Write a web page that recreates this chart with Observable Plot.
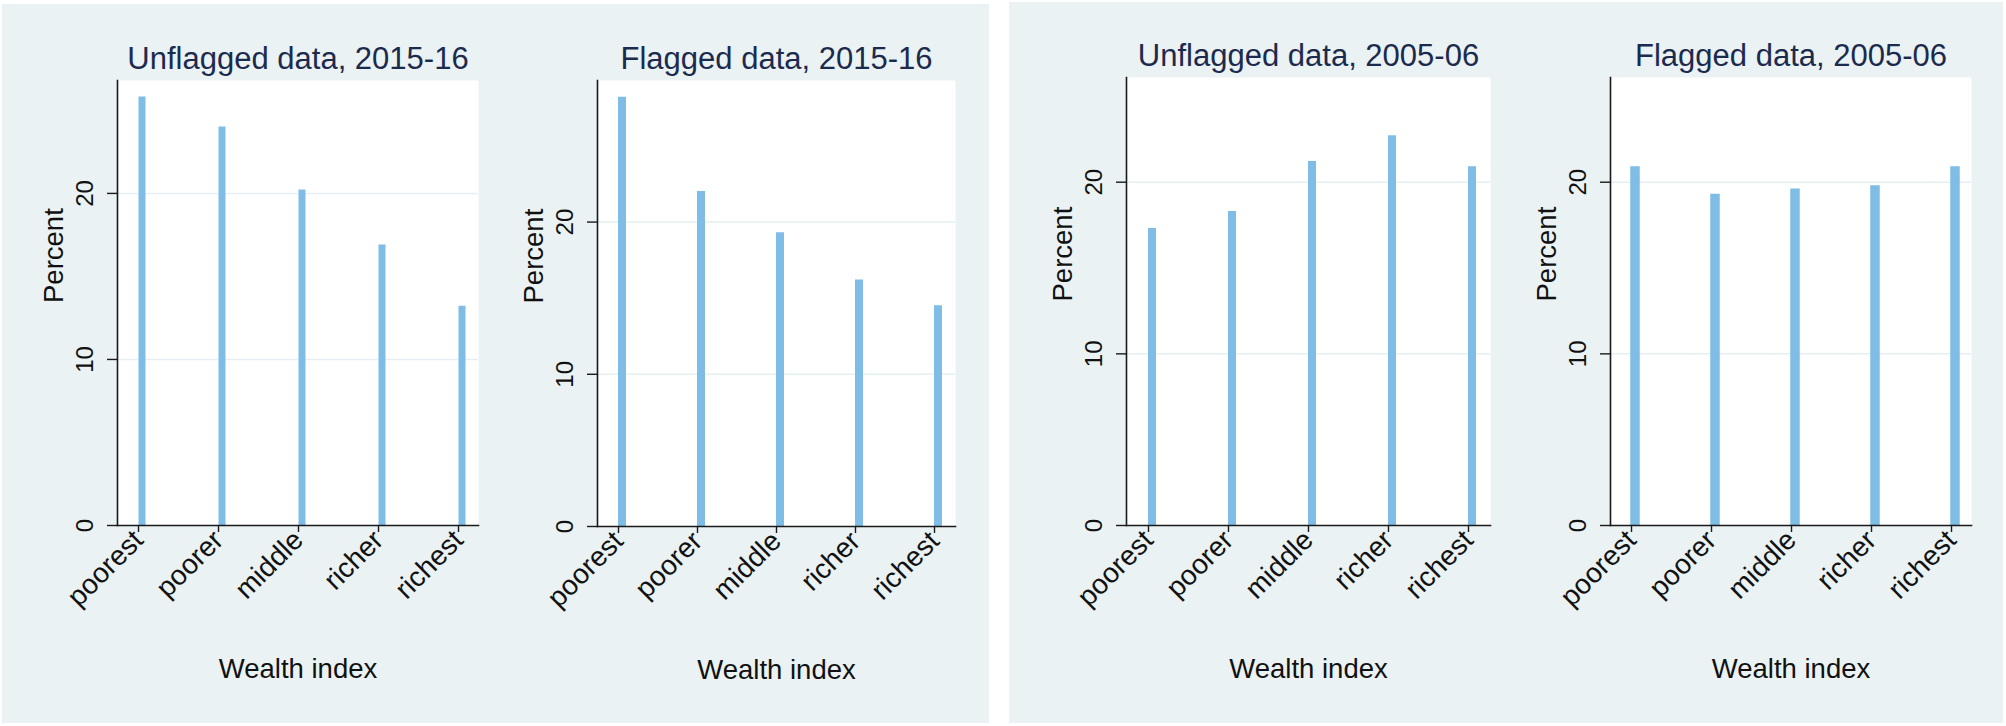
<!DOCTYPE html>
<html><head><meta charset="utf-8">
<script src="https://cdn.jsdelivr.net/npm/d3@7"></script>
<script src="https://cdn.jsdelivr.net/npm/@observablehq/plot@0.6"></script>
<style>
body{margin:0;background:#fff;}
#root{position:relative;width:2006px;height:726px;overflow:hidden;background:#fff;font-family:"Liberation Sans",Arial,sans-serif;}
.bg{position:absolute;background:#eaf2f3;}
.cell{position:absolute;}
.cell svg{overflow:visible;}
</style></head><body><div id="root"></div>
<script>
// ---- data ----
const wealth = ["poorest", "poorer", "middle", "richer", "richest"];
const unflagged201516 = [25.8, 24.0, 20.2, 16.9, 13.2];
const flagged201516   = [28.2, 22.0, 19.3, 16.2, 14.5];
const unflagged200506 = [17.3, 18.3, 21.2, 22.7, 20.9];
const flagged200506   = [20.9, 19.3, 19.6, 19.8, 20.9];
const titles = ["Unflagged data, 2015-16", "Flagged data, 2015-16", "Unflagged data, 2005-06", "Flagged data, 2005-06"];
const yTicks = [0, 10, 20];
const yLabel = "Percent";
const xLabel = "Wealth index";

// ---- layout ----
const root = document.getElementById("root");
function bg(l, t, w, h) {
  const d = document.createElement("div");
  d.className = "bg";
  Object.assign(d.style, {left: l + "px", top: t + "px", width: w + "px", height: h + "px"});
  root.appendChild(d);
}
bg(2, 4, 987, 719);
bg(1009, 2, 994, 721);

const cells = [
  {title: titles[0], values: unflagged201516, left: 2,    top: 4, w: 488, h: 719, ml: 115, mr: 12, mt: 76, mb: 198, ymax: 26.8, pad: 0.25,  bw: 7},
  {title: titles[1], values: flagged201516,   left: 490,  top: 4, w: 499, h: 719, ml: 107, mr: 34, mt: 76, mb: 197, ymax: 29.3, pad: 0.245, bw: 8},
  {title: titles[2], values: unflagged200506, left: 1009, top: 2, w: 490, h: 721, ml: 117, mr: 9,  mt: 75, mb: 198, ymax: 26.1, pad: 0.265, bw: 8},
  {title: titles[3], values: flagged200506,   left: 1499, top: 2, w: 504, h: 721, ml: 111, mr: 32, mt: 75, mb: 198, ymax: 26.1, pad: 0.256, bw: 9.5}
];

const font = "Liberation Sans, Arial, sans-serif";
const axisColor = "#1a1a1a";

for (const c of cells) {
  const data = wealth.map((w, i) => ({wealth: w, pct: c.values[i]}));
  const chart = Plot.plot({
    width: c.w, height: c.h,
    marginLeft: c.ml, marginRight: c.mr, marginTop: c.mt, marginBottom: c.mb,
    style: {background: "transparent", fontFamily: font, color: "#111"},
    x: {type: "point", domain: wealth, padding: c.pad},
    y: {domain: [0, c.ymax]},
    marks: [
      Plot.frame({fill: "white", stroke: null}),
      Plot.gridY([10, 20], {stroke: "#e6eff2", strokeOpacity: 1, strokeWidth: 1.5}),
      Plot.ruleX(data, {x: "wealth", y1: 0, y2: "pct", stroke: "#7fbde6", strokeWidth: c.bw, dx: 3.5}),
      Plot.frame({anchor: "left", stroke: axisColor, strokeWidth: 1.6}),
      Plot.frame({anchor: "bottom", stroke: axisColor, strokeWidth: 1.6}),
      Plot.axisY(yTicks, {tickSize: 10, tickPadding: 15, tickRotate: -90, fontSize: 24, label: null, stroke: axisColor, strokeWidth: 1.4, fill: "#111"}),
      Plot.axisX({tickSize: 7, tickPadding: 3, tickRotate: -45, fontSize: 28, label: null, stroke: axisColor, strokeWidth: 1.4, fill: "#111"}),
      Plot.text([yLabel], {frameAnchor: "left", rotate: -90, lineAnchor: "bottom", dx: -55, fontSize: 27.5, fill: "#111"}),
      Plot.text([xLabel], {frameAnchor: "bottom", lineAnchor: "bottom", dy: 152, fontSize: 27.5, fill: "#111"}),
      Plot.text([c.title], {frameAnchor: "top", lineAnchor: "bottom", dy: -12, fontSize: 31, fill: "#1c2a4e"})
    ]
  });
  const div = document.createElement("div");
  div.className = "cell";
  Object.assign(div.style, {left: c.left + "px", top: c.top + "px", width: c.w + "px", height: c.h + "px"});
  div.appendChild(chart);
  root.appendChild(div);
}
</script></body></html>
